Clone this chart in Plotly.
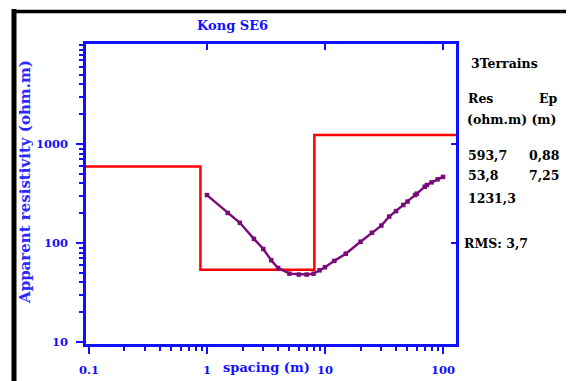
import plotly.graph_objects as go
import numpy as np

# ---- data ----
spacing = [1.0, 1.5, 1.9, 2.5, 3.0, 3.5, 4.0, 5.0, 6.0, 7.0, 8.0, 9.0, 10, 12, 15, 20,
           25, 30, 35, 40, 46, 50, 58, 60, 70, 73, 80, 90, 100]
rho_app = [305, 201, 160, 110, 87, 67, 56, 49, 48, 48, 49, 53, 57, 66, 78, 103,
           127, 150, 185, 210, 242, 262, 305, 315, 370, 385, 410, 440, 465]
layer_res = [593.7, 53.8, 1231.3]
layer_thk = [0.88, 7.25]
x_ticks = [0.1, 1, 10, 100]
x_ticktext = ["0.1", "1", "10", "100"]
y_ticks = [10, 100, 1000]
y_ticktext = ["10", "100", "1000"]

# ---- layout geometry (window pixels; page body has an 8px margin) ----
W, H = 574, 381
OFF = 8
L, R, T, B = 86, 456, 44, 344
xr = [-1.025, 2.11]
yr = [0.98, 4.01]

def px(x):
    return (x - L) / (R - L)

def py(y):
    return (B - y) / (B - T)

BLUE = "#1010ff"
FONT = "DejaVu Serif"

depths = list(np.cumsum(layer_thk))
model_x = [10 ** xr[0]] + depths + [10 ** xr[1]]
model_y = layer_res + [layer_res[-1]]

fig = go.Figure()
fig.add_trace(go.Scatter(x=model_x, y=model_y, mode="lines", line=dict(color="#ff0000", width=2.5, shape="hv"),
                         hoverinfo="skip", showlegend=False, cliponaxis=False))
fig.add_trace(go.Scatter(x=spacing, y=rho_app, mode="lines+markers",
                         line=dict(color="#7a0a7a", width=2.4),
                         marker=dict(symbol="square", size=4.5, color="#7a0a7a"),
                         showlegend=False))
# invisible trace to host mirror axes
fig.add_trace(go.Scatter(x=spacing, y=rho_app, xaxis="x2", yaxis="y2", mode="markers",
                         marker=dict(opacity=0), hoverinfo="skip", showlegend=False))

tickfont = dict(family=FONT, size=11.5, color=BLUE, weight="bold")

fig.update_layout(
    width=W - OFF, height=H - OFF,
    margin=dict(l=L - OFF, r=W - R, t=T - OFF, b=H - B, autoexpand=False),
    paper_bgcolor="white", plot_bgcolor="white",
    xaxis=dict(type="log", range=xr, tickvals=x_ticks, ticktext=x_ticktext,
               showgrid=False, zeroline=False, showline=True, linecolor=BLUE, linewidth=2.5,
               mirror=True, ticks="outside", ticklen=7, tickwidth=2, tickcolor=BLUE,
               tickfont=tickfont, ticklabelstandoff=6,
               minor=dict(ticks="outside", ticklen=4, tickwidth=2, tickcolor=BLUE, dtick="D1", showgrid=False)),
    yaxis=dict(type="log", range=yr, tickvals=y_ticks, ticktext=y_ticktext,
               showgrid=False, zeroline=False, showline=True, linecolor=BLUE, linewidth=2.5,
               mirror=True, ticks="outside", ticklen=7, tickwidth=2, tickcolor=BLUE,
               tickfont=tickfont, ticklabelstandoff=6,
               minor=dict(ticks="outside", ticklen=4, tickwidth=2, tickcolor=BLUE, dtick="D1", showgrid=False)),
    xaxis2=dict(type="log", range=xr, overlaying="x", side="top", tickvals=[1, 10, 100],
                ticks="inside", ticklen=6, tickwidth=2, tickcolor=BLUE, showticklabels=False,
                showgrid=False, zeroline=False, showline=False),
    yaxis2=dict(type="log", range=yr, overlaying="y", side="right", tickvals=[100, 1000],
                ticks="inside", ticklen=5, tickwidth=2, tickcolor=BLUE, showticklabels=False,
                showgrid=False, zeroline=False, showline=False),
)

ann = []
def txt(x, y, s, size=12.5, color="black", weight="bold", xanchor="left", family=FONT, angle=0):
    ann.append(dict(x=px(x), y=py(y), xref="paper", yref="paper", text=s, showarrow=False,
                    xanchor=xanchor, yanchor="middle", textangle=angle,
                    font=dict(family=family, size=size, color=color, weight=weight)))

txt(232, 25, "Kong SE6", size=13, color=BLUE, xanchor="center")
txt(25, 182, "Apparent resistivity (ohm.m)", size=15, color="#2a2aff", xanchor="center", angle=-90)
txt(266, 367, "spacing (m)", size=13, color=BLUE, xanchor="center")
txt(469, 63, "3Terrains")
txt(466, 98, "Res")
txt(537, 98, "Ep")
txt(465, 120, "(ohm.m) (m)")
txt(466, 155, "593,7")
txt(527, 155, "0,88")
txt(466, 176, "53,8")
txt(527, 176, "7,25")
txt(466, 198, "1231,3")
txt(462, 243, "RMS: 3,7")
fig.update_layout(annotations=ann)

shapes = [
    dict(type="line", xref="paper", yref="paper", x0=px(14), x1=px(14), y0=py(9), y1=py(400),
         line=dict(color="black", width=5)),
    dict(type="line", xref="paper", yref="paper", x0=px(12), x1=px(569), y0=py(11.5), y1=py(11.5),
         line=dict(color="black", width=3.5)),
    dict(type="line", xref="paper", yref="paper", x0=px(567.5), x1=px(567.5), y0=py(10), y1=py(400),
         line=dict(color="black", width=3)),
]
fig.update_layout(shapes=shapes)

fig.write_html("out.html")
